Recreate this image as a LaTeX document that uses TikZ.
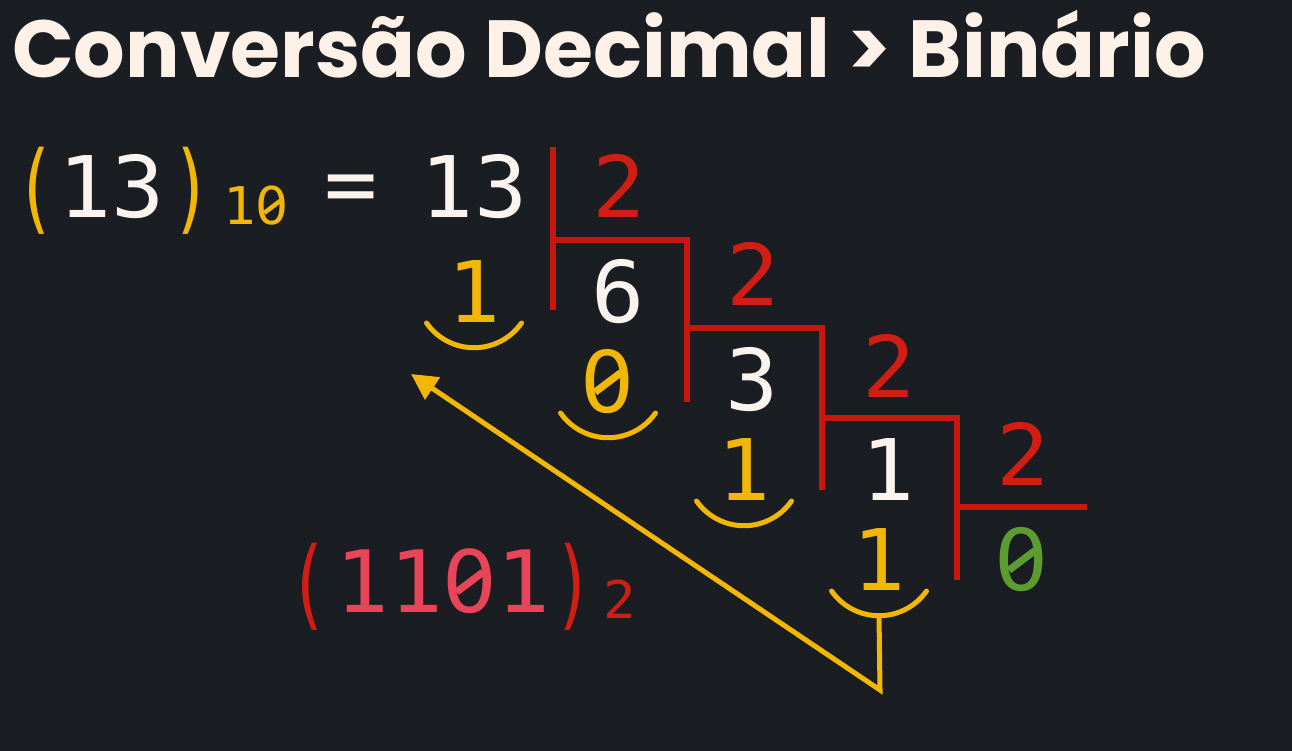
\documentclass[tikz,border=0pt]{standalone}
\usepackage{fontspec}
\usepackage{graphicx}
\usetikzlibrary{calc,arrows.meta}
\newfontfamily\monof{DejaVu Sans Mono}[FakeStretch=1.04]
\newfontfamily\sansz{DejaVu Sans}
\newfontfamily\titlef{Poppins}
\newcommand\szero{\makebox[0.626em][c]{\sansz\rlap{\hspace{0.14em}\raisebox{0.2em}{\rotatebox{37}{\rule{0.38em}{0.085em}}}}0}}
\newcommand\npar[1]{\scalebox{0.66}[1]{#1}}
\definecolor{bgc}{HTML}{1A1D21}
\definecolor{titc}{HTML}{FDF1E8}
\definecolor{whc}{HTML}{FBF3EE}
\definecolor{yelc}{HTML}{F2B705}
\definecolor{redl}{HTML}{C8170F}
\definecolor{redd}{HTML}{D01E14}
\definecolor{grnc}{HTML}{5C9C30}
\definecolor{pinkc}{HTML}{E8445A}
\begin{document}
\begin{tikzpicture}[x=1pt,y=-1pt,
  dig/.style={inner sep=0pt,anchor=base,font=\monof\fontsize{85}{90}\selectfont},
  wd/.style={dig,text=whc},
  yd/.style={dig,text=yelc},
  rd/.style={dig,text=redd},
  gd/.style={dig,text=grnc},
  par/.style={inner sep=0pt,anchor=base,font=\monof\fontsize{98}{100}\selectfont},
  sub/.style={inner sep=0pt,anchor=base,font=\monof\fontsize{52}{56}\selectfont},
  redline/.style={draw=redl,line width=6pt},
  smile/.style={draw=yelc,line width=5pt,line cap=round},
  yarrow/.style={draw=yelc,line width=5pt,line join=miter,-{Triangle[length=26pt,width=26pt]}}]
\fill[bgc] (0,0) rectangle (1292,751);
\useasboundingbox (0,0) rectangle (1292,751);
% title
\node[inner sep=0pt,anchor=base west,text=titc,font=\titlef\bfseries\fontsize{81}{90}\selectfont] (title) at (12,78) {Conversão Decimal > Binário};
% left expression
\node[par,text=yelc] (lp) at (36,222) {\npar{(}};
\node[wd] (n13a) at (112,218) {13};
\node[par,text=yelc] (rp) at (192,222) {\npar{)}};
\node[sub,text=yelc] (b10) at (256,225) {1\szero};
\node[wd] (eq) at (351,214) {=};
\node[wd] (n13) at (474,218) {13};
% divisors
\node[rd] (d1) at (619,218) {2};
\node[rd] (d2) at (753,305) {2};
\node[rd] (d3) at (889,397) {2};
\node[rd] (d4) at (1023,485) {2};
% quotients
\node[wd] (q6) at (618,322) {6};
\node[wd] (q3) at (752,410) {3};
\node[wd] (q1) at (888,500) {1};
\node[gd] (q0) at (1022,590) {\szero};
% remainders
\node[yd] (r1) at (474,322) {1};
\node[yd] (r2) at (608,412) {\szero};
\node[yd] (r3) at (744,500) {1};
\node[yd] (r4) at (879,590) {1};
% division brackets
\draw[redline] (553,147) -- (553,310);
\draw[redline] (553,240) -- (687,240) -- (687,402);
\draw[redline] (687,328) -- (822,328) -- (822,490);
\draw[redline] (822,418) -- (957,418) -- (957,580);
\draw[redline] (957,507) -- (1087,507);
% smiles under remainders
\foreach \r in {r1,r2,r3,r4}{
  \draw[smile] ($(\r.base)+(-47.5,1)$) arc[start angle=145,end angle=35,radius=58];
}
\coordinate (a4b) at ($(r4.base)+(0,25)$);
\coordinate (turn) at (880,690);
\coordinate (tip) at (411,374);
\draw[yarrow] (a4b) -- (turn) -- (tip);
% result
\node[par,text=redd] (lp2) at (309,617) {\npar{(}};
\node[dig,text=pinkc,font=\monof\fontsize{86}{90}\selectfont] (res) at (443,612) {11\szero1};
\node[par,text=redd] (rp2) at (574,617) {\npar{)}};
\node[sub,text=redd] (b2) at (620,618) {2};
\end{tikzpicture}
\end{document}
